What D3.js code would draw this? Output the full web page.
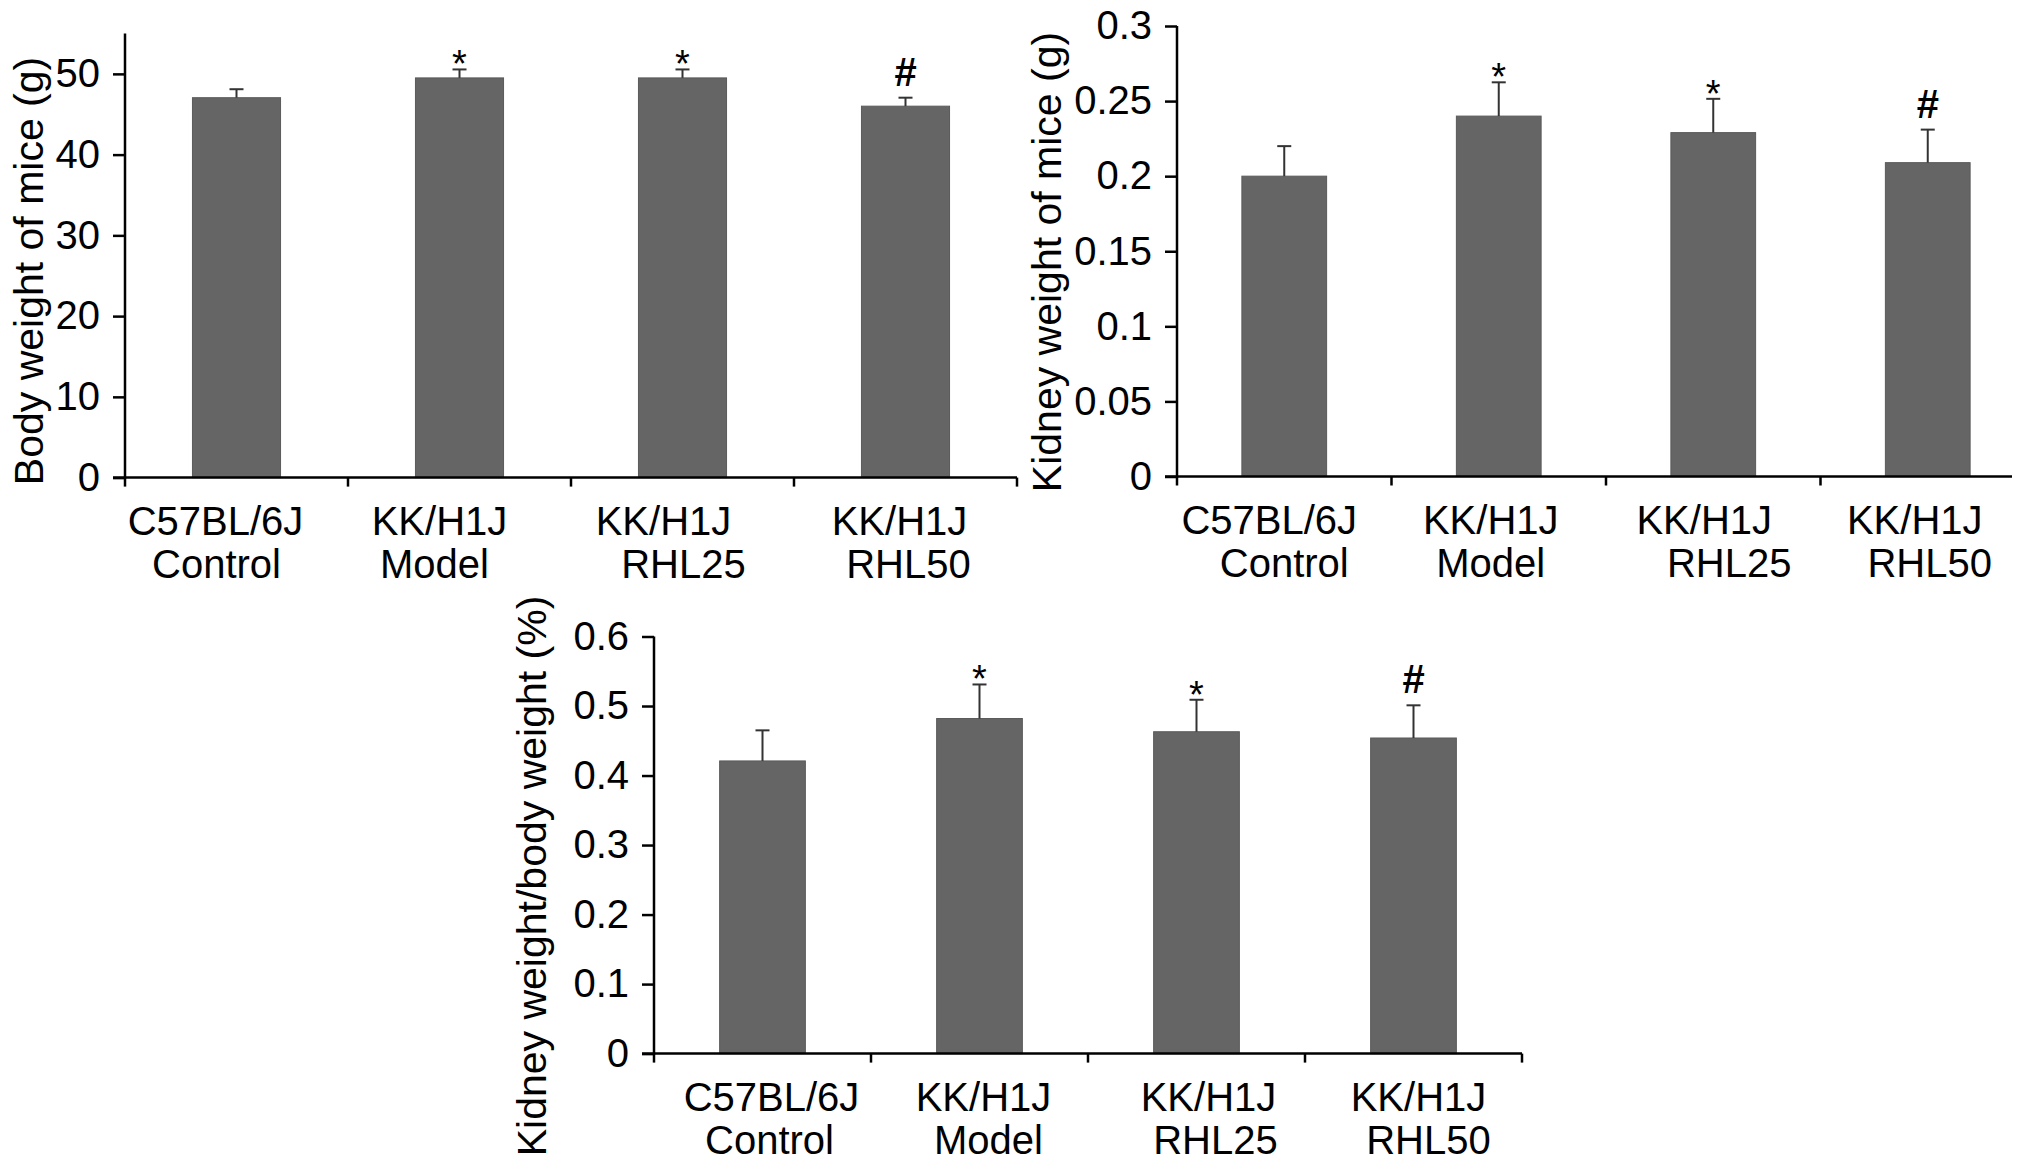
<!DOCTYPE html>
<html>
<head>
<meta charset="utf-8">
<script src="https://cdn.jsdelivr.net/npm/d3@7"></script>
<style>
  body { margin: 0; background: #fff; }
  svg { display: block; }
  text { font-family: 'Liberation Sans', Arial, sans-serif; fill: #000; }
</style>
</head>
<body>
<div id="chart"></div>
<script>
// Group labels (two lines under each bar)
const groupLine1 = ['C57BL/6J', 'KK/H1J', 'KK/H1J', 'KK/H1J'];
const groupLine2 = ['Control', 'Model', 'RHL25', 'RHL50'];
const groups = groupLine1.map((d, i) => d + ' ' + groupLine2[i]);

// Significance marks above bars
const marks = ['', '*', '*', '#'];

// Body weight (g)
const bodyWeight = [47.05, 49.5, 49.5, 46.0];
const bodyWeightErr = [1.05, 1.05, 1.05, 1.05];
const bodyTicks = [0, 10, 20, 30, 40, 50];

// Kidney weight (g)
const kidneyWeight = [0.2, 0.24, 0.229, 0.209];
const kidneyWeightErr = [0.02, 0.0225, 0.0225, 0.022];
const kidneyTicks = [0, 0.05, 0.1, 0.15, 0.2, 0.25, 0.3];

// Kidney weight / body weight (%)
const ratio = [0.421, 0.482, 0.463, 0.454];
const ratioErr = [0.044, 0.049, 0.046, 0.047];
const ratioTicks = [0, 0.1, 0.2, 0.3, 0.4, 0.5, 0.6];

const W = 2031, H = 1176;
const BAR = '#656565';

const svg = d3
  .select('#chart')
  .append('svg')
  .attr('width', W)
  .attr('height', H);

svg.append('rect').attr('width', W).attr('height', H).attr('fill', '#fff');

function drawChart(cfg) {
  const g = svg.append('g');

  const x = d3
    .scaleBand()
    .domain(groups)
    .range([cfg.left, cfg.left + cfg.step * groups.length])
    .paddingInner(0.605)
    .paddingOuter(0.3025);

  const y = d3.scaleLinear().domain(cfg.domain).range([cfg.bottom, cfg.top]);

  // bars
  g.selectAll('rect.bar')
    .data(cfg.values)
    .join('rect')
    .attr('class', 'bar')
    .attr('x', (d, i) => x(groups[i]))
    .attr('y', d => y(d))
    .attr('width', x.bandwidth())
    .attr('height', d => y(0) - y(d))
    .attr('fill', BAR)
    .attr('stroke', '#5a5a5a')
    .attr('stroke-width', 1);

  // error bars (plus side only)
  const err = g
    .selectAll('g.err')
    .data(cfg.values)
    .join('g')
    .attr('class', 'err')
    .attr('stroke', '#333')
    .attr('stroke-width', 2);
  err
    .append('line')
    .attr('x1', (d, i) => x(groups[i]) + x.bandwidth() / 2)
    .attr('x2', (d, i) => x(groups[i]) + x.bandwidth() / 2)
    .attr('y1', d => y(d))
    .attr('y2', (d, i) => y(d + cfg.errors[i]));
  err
    .append('line')
    .attr('x1', (d, i) => x(groups[i]) + x.bandwidth() / 2 - 7)
    .attr('x2', (d, i) => x(groups[i]) + x.bandwidth() / 2 + 7)
    .attr('y1', (d, i) => y(d + cfg.errors[i]))
    .attr('y2', (d, i) => y(d + cfg.errors[i]));

  // significance marks
  g.selectAll('text.mark')
    .data(cfg.values)
    .join('text')
    .attr('class', 'mark')
    .attr('x', (d, i) => x(groups[i]) + x.bandwidth() / 2)
    .attr('y', (d, i) => y(d + cfg.errors[i]) + (marks[i] === '#' ? -12 : 8))
    .attr('text-anchor', 'middle')
    .attr('font-size', (d, i) => (marks[i] === '#' ? 40 : 38))
    .attr('font-weight', (d, i) => (marks[i] === '#' ? 'bold' : 'normal'))
    .text((d, i) => marks[i]);

  // y axis
  const yAxis = g
    .append('g')
    .attr('transform', `translate(${cfg.left},0)`)
    .call(
      d3
        .axisLeft(y)
        .tickValues(cfg.ticks)
        .tickSize(12)
        .tickPadding(13)
        .tickFormat(d => String(+d.toFixed(2)))
    );
  yAxis.select('.domain').remove();
  yAxis.selectAll('line').attr('stroke', '#000').attr('stroke-width', 2.5);
  yAxis.selectAll('text').attr('font-size', 40).attr('fill', '#000');
  g.append('line')
    .attr('x1', cfg.left)
    .attr('x2', cfg.left)
    .attr('y1', y(cfg.domain[1]))
    .attr('y2', y(0) + 1)
    .attr('stroke', '#000')
    .attr('stroke-width', 2.5);

  // x axis baseline and boundary ticks
  const axisEnd = Math.min(x.range()[1], cfg.axisEnd || Infinity);
  g.append('line')
    .attr('x1', cfg.left - 12)
    .attr('x2', axisEnd)
    .attr('y1', y(0))
    .attr('y2', y(0))
    .attr('stroke', '#000')
    .attr('stroke-width', 2.5);
  const bounds = groups
    .map(d => x(d) - (x.step() * x.paddingInner()) / 2)
    .concat([x.range()[1]])
    .filter(v => v <= axisEnd);
  g.selectAll('line.xt')
    .data(bounds)
    .join('line')
    .attr('class', 'xt')
    .attr('x1', d => d)
    .attr('x2', d => d)
    .attr('y1', y(0))
    .attr('y2', y(0) + 9)
    .attr('stroke', '#000')
    .attr('stroke-width', 2.5);

  // category labels
  const lab = g
    .selectAll('text.cat')
    .data(groups)
    .join('text')
    .attr('class', 'cat')
    .attr('text-anchor', 'middle')
    .attr('font-size', 40);
  lab
    .append('tspan')
    .attr('x', (d, i) => x(d) + x.bandwidth() / 2 + cfg.dx1[i])
    .attr('y', y(0) + 57)
    .text((d, i) => groupLine1[i]);
  lab
    .append('tspan')
    .attr('x', (d, i) => x(d) + x.bandwidth() / 2 + cfg.dx2[i])
    .attr('y', y(0) + 100)
    .text((d, i) => groupLine2[i]);

  // y title
  g.append('text')
    .attr('transform', `translate(${cfg.titleX},${cfg.titleY}) rotate(-90)`)
    .attr('text-anchor', 'middle')
    .attr('font-size', 41)
    .text(cfg.title);
}

drawChart({
  values: bodyWeight,
  errors: bodyWeightErr,
  ticks: bodyTicks,
  domain: [0, 55],
  left: 125,
  step: 223,
  top: 33.5,
  bottom: 477.6,
  title: 'Body weight of mice (g)',
  titleX: 43,
  titleY: 271,
  dx1: [-21, -20, -19, -6],
  dx2: [-20, -25, 1, 3],
});

drawChart({
  values: kidneyWeight,
  errors: kidneyWeightErr,
  ticks: kidneyTicks,
  domain: [0, 0.3],
  left: 1177,
  step: 214.5,
  top: 26,
  bottom: 476.5,
  axisEnd: 2012,
  title: 'Kidney weight of mice (g)',
  titleX: 1061,
  titleY: 262,
  dx1: [-15, -8, -9, -13],
  dx2: [0, -8, 16, 2],
});

drawChart({
  values: ratio,
  errors: ratioErr,
  ticks: ratioTicks,
  domain: [0, 0.6],
  left: 654,
  step: 217,
  top: 636.5,
  bottom: 1053.6,
  title: 'Kidney weight/body weight (%)',
  titleX: 546,
  titleY: 876,
  dx1: [9, 4, 12, 5],
  dx2: [7, 9, 19, 15],
});
</script>
</body>
</html>
